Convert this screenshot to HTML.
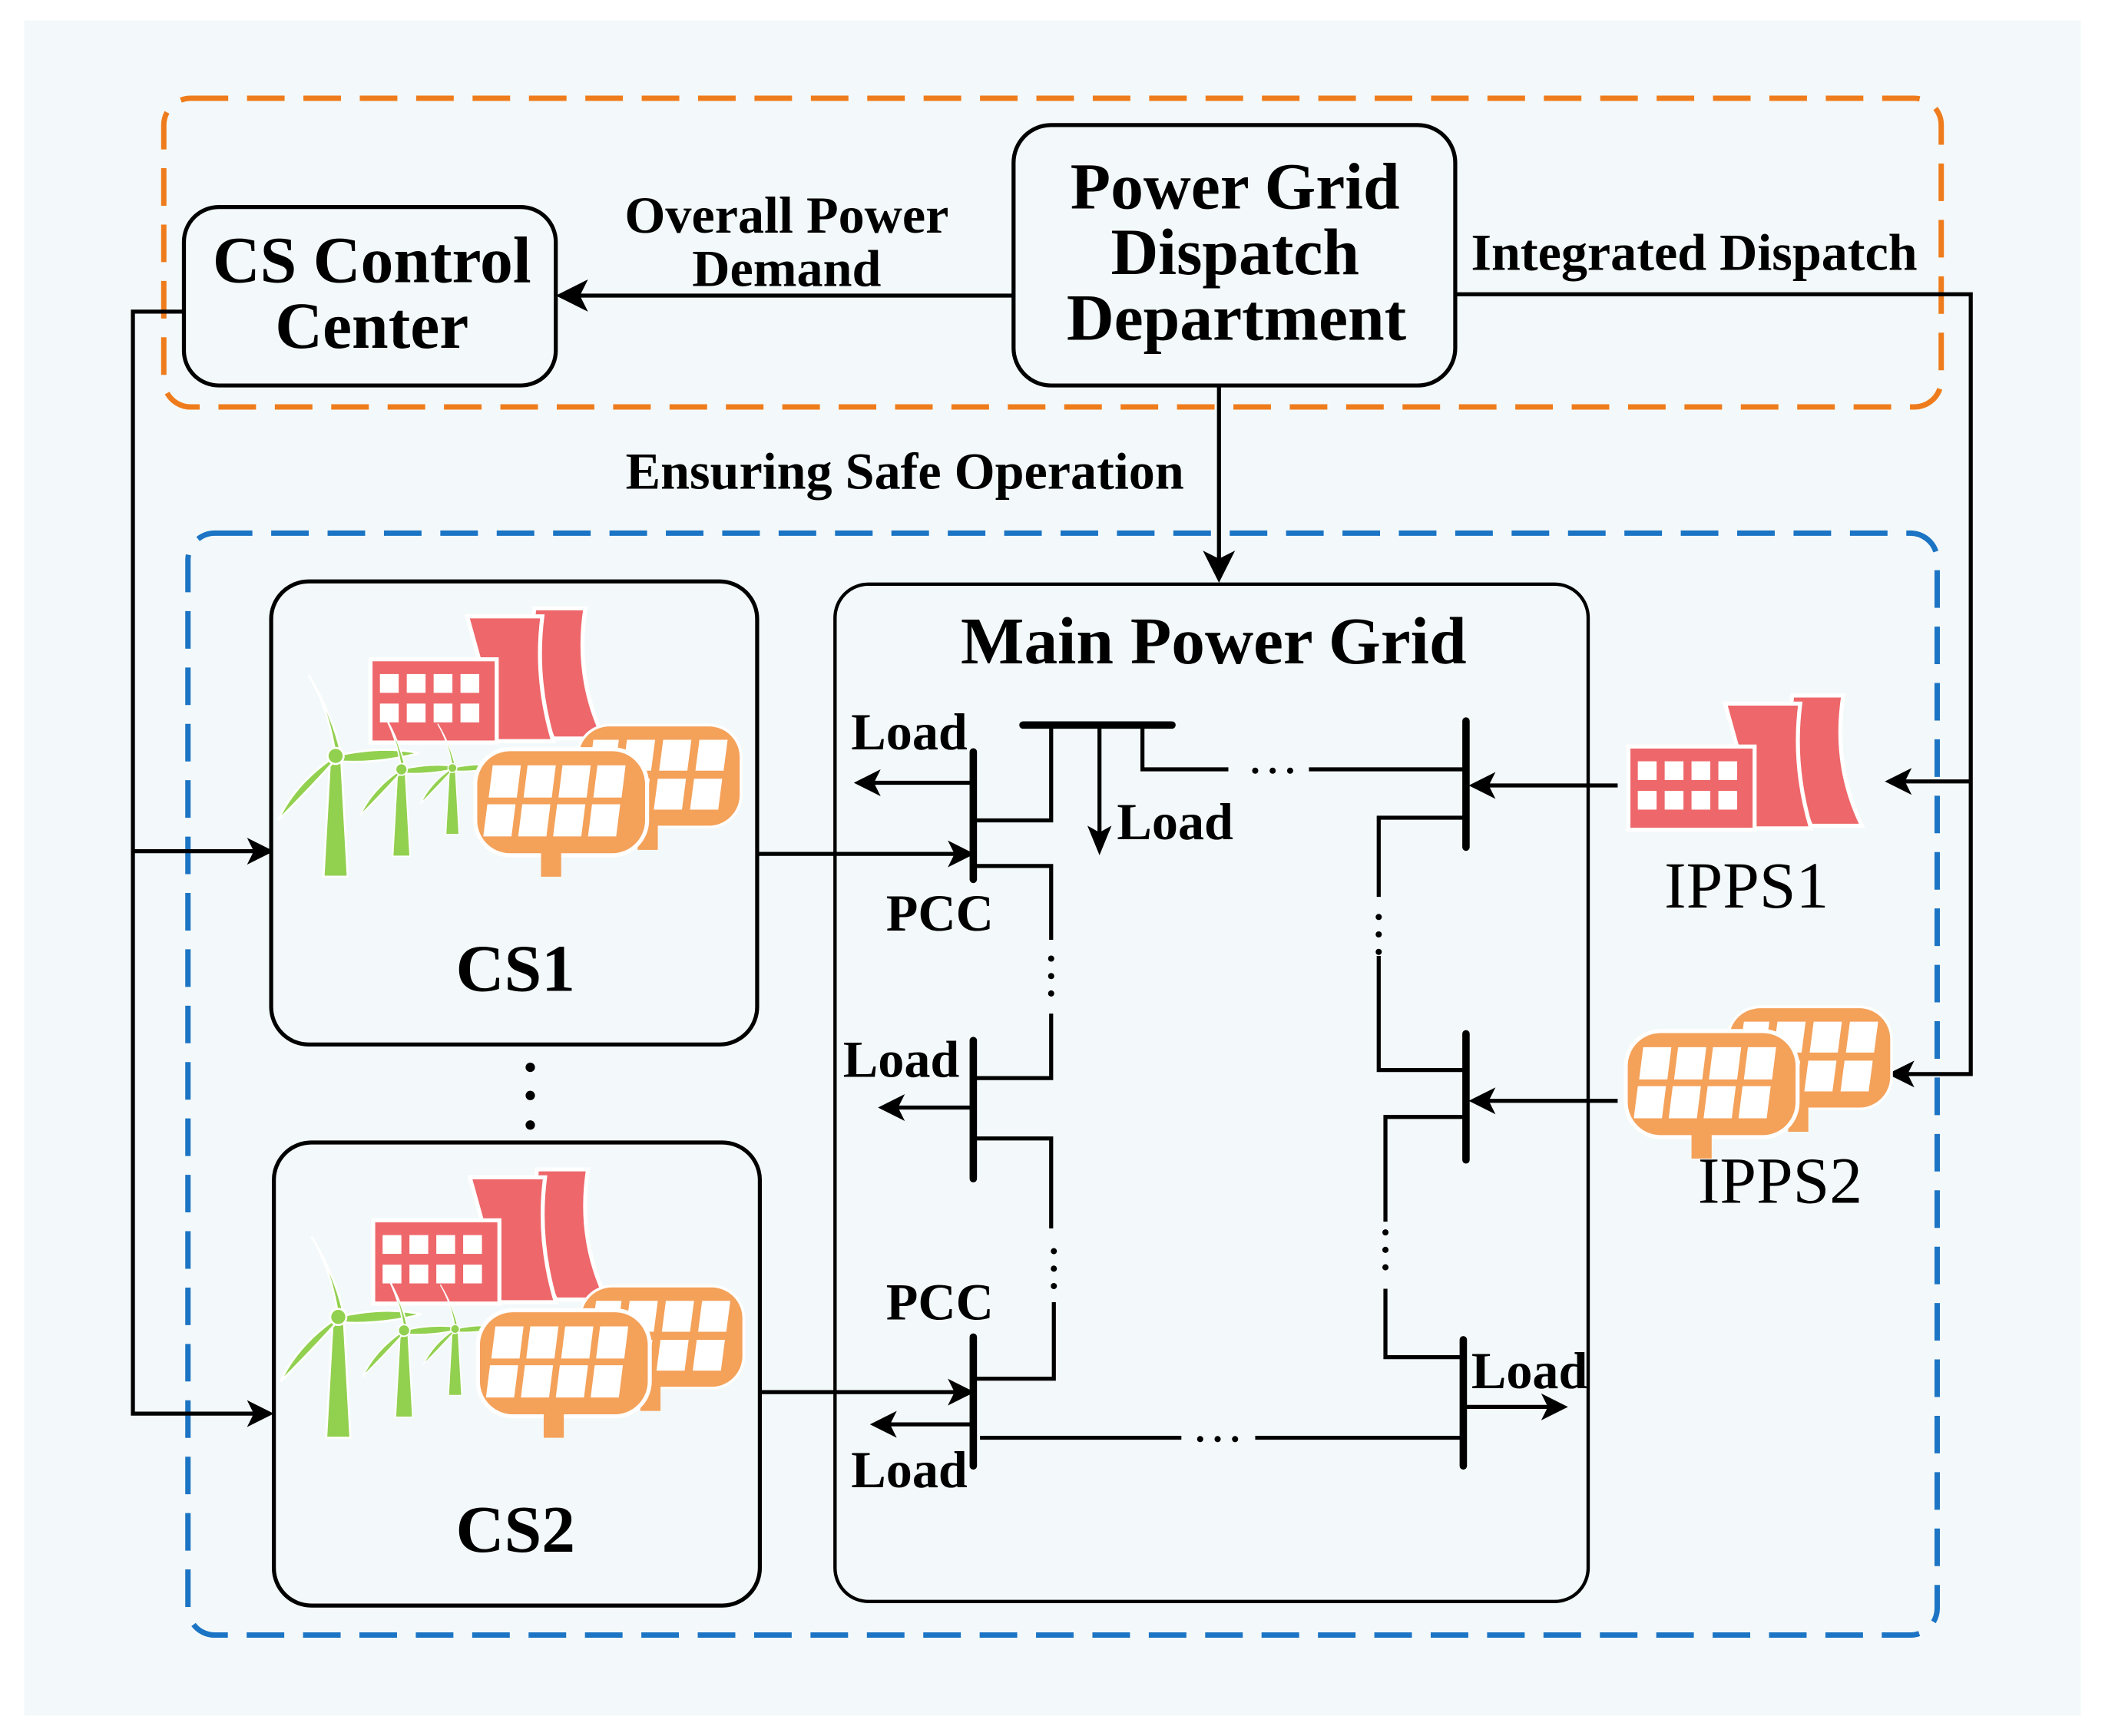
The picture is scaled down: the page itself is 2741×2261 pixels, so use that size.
<!DOCTYPE html>
<html><head><meta charset="utf-8"><style>
html,body{margin:0;padding:0;background:#fff;}
svg{display:block;}
text{font-family:"Liberation Serif",serif;fill:#000;}
</style></head><body>
<svg width="2741" height="2261" viewBox="0 0 1568 1293" xmlns="http://www.w3.org/2000/svg">
<defs>
<g id="plant">
 <path d="M398,453 L436,453 Q428,505 450,550 L412,550 Q392,505 398,453 Z" fill="#ee676a" stroke="#fff" stroke-width="3"/>
 <path d="M348,459 L404,459 Q398,505 412,552 L358,552 L358,495 Z" fill="#ee676a" stroke="#fff" stroke-width="3"/>
 <rect x="276" y="491" width="94" height="62" fill="#ee676a" stroke="#fff" stroke-width="3"/>
 <g fill="#fff">
  <rect x="283" y="502" width="14" height="14"/><rect x="303" y="502" width="14" height="14"/><rect x="323" y="502" width="14" height="14"/><rect x="343" y="502" width="14" height="14"/>
  <rect x="283" y="524" width="14" height="14"/><rect x="303" y="524" width="14" height="14"/><rect x="323" y="524" width="14" height="14"/><rect x="343" y="524" width="14" height="14"/>
 </g>
</g>
<g id="panels">
 <rect x="430" y="540" width="122" height="76" rx="24" fill="#f4a15a" stroke="#fff" stroke-width="2"/>
 <rect x="475" y="600" width="15" height="33" fill="#f4a15a"/>
 <g fill="#fff">
  <path d="M442,551 L461,551 L458,574 L439,574Z"/><path d="M467,551 L488,551 L485,574 L464,574Z"/><path d="M494,551 L515,551 L512,574 L491,574Z"/><path d="M521,551 L542,551 L539,574 L518,574Z"/>
  <path d="M438,580 L457,580 L454,603 L435,603Z"/><path d="M463,580 L484,580 L481,603 L460,603Z"/><path d="M490,580 L511,580 L508,603 L487,603Z"/><path d="M517,580 L538,580 L535,603 L514,603Z"/>
 </g>
 <rect x="354" y="558" width="128" height="79" rx="26" fill="#f4a15a" stroke="#fff" stroke-width="3"/>
 <rect x="403" y="620" width="15" height="33" fill="#f4a15a"/>
 <g fill="#fff">
  <path d="M367,570 L388,570 L385,594 L364,594Z"/><path d="M393,570 L414,570 L411,594 L390,594Z"/><path d="M419,570 L440,570 L437,594 L416,594Z"/><path d="M445,570 L466,570 L463,594 L442,594Z"/>
  <path d="M363,599 L384,599 L381,623 L360,623Z"/><path d="M389,599 L410,599 L407,623 L386,623Z"/><path d="M415,599 L436,599 L433,623 L412,623Z"/><path d="M441,599 L462,599 L459,623 L438,623Z"/>
 </g>
</g>
<g id="turb" fill="#92d050" stroke="#fff" stroke-width="1.5">
 <path d="M-4,0 L4,0 L9,90 L-9,90 Z"/>
 <path d="M0,0 Q-5,-35 -20,-60 Q-2,-30 4,-2 Z"/>
 <path d="M0,0 Q35,-8 62,-2 Q30,6 2,4 Z"/>
 <path d="M0,0 Q-30,20 -43,48 Q-20,25 -2,5 Z"/>
 <circle r="6" cx="0" cy="0"/>
</g>
<g id="cs">
 <use href="#plant"/>
 <use href="#turb" transform="translate(250,563)"/>
 <use href="#turb" transform="translate(299,573) scale(0.72)"/>
 <use href="#turb" transform="translate(337,572) scale(0.55)"/>
 <use href="#panels"/>
</g>
</defs>

<rect x="18" y="15" width="1532" height="1263" fill="#f3f9fa"/>

<rect x="122" y="73" width="1324" height="230" rx="20" fill="none" stroke="#ef7c1c" stroke-width="4" stroke-dasharray="28 14"/>
<rect x="140" y="397" width="1303" height="821" rx="20" fill="none" stroke="#1c74c4" stroke-width="4" stroke-dasharray="28 14"/>

<rect x="137" y="154" width="277" height="133" rx="26" fill="#f3f9fa" stroke="#000" stroke-width="3"/>
<text x="277" y="210" font-size="49" font-weight="bold" text-anchor="middle">CS Control</text>
<text x="277" y="259" font-size="49" font-weight="bold" text-anchor="middle">Center</text>
<rect x="755" y="93" width="329" height="194" rx="28" fill="#f3f9fa" stroke="#000" stroke-width="3"/>
<text x="920" y="155" font-size="49" font-weight="bold" text-anchor="middle">Power Grid</text>
<text x="920" y="204" font-size="49" font-weight="bold" text-anchor="middle">Dispatch</text>
<text x="921" y="253" font-size="49" font-weight="bold" text-anchor="middle">Department</text>

<text x="586" y="173" font-size="39" font-weight="bold" text-anchor="middle">Overall Power</text>
<text x="586" y="213" font-size="39" font-weight="bold" text-anchor="middle">Demand</text>
<text x="1262" y="201" font-size="39" font-weight="bold" text-anchor="middle">Integrated Dispatch</text>
<text x="674" y="364" font-size="39" font-weight="bold" text-anchor="middle">Ensuring Safe Operation</text>

<g stroke="#000" stroke-width="3" fill="none">
 <path d="M755,220 L430,220"/>
 <path d="M1084,219 L1468,219 L1468,800 L1420,800"/>
 <path d="M1468,582 L1418,582"/>
 <path d="M908,287 L908,418"/>
 <path d="M137,232 L99,232 L99,1053 L190,1053"/>
 <path d="M99,634 L190,634"/>
</g>
<g fill="#000">
 <path d="M414,220 L438,208 L432,220 L438,232Z"/>
 <path d="M1404,582 L1424,572 L1419,582 L1424,592Z"/>
 <path d="M1406,800 L1426,790 L1421,800 L1426,810Z"/>
 <path d="M908,434 L896,410 L908,416 L920,410Z"/>
 <path d="M204,634 L184,624 L189,634 L184,644Z"/>
 <path d="M204,1053 L184,1043 L189,1053 L184,1063Z"/>
</g>

<rect x="202" y="433" width="362" height="345" rx="28" fill="#f3f9fa" stroke="#000" stroke-width="3"/>
<use href="#cs"/>
<text x="384" y="738" font-size="50" font-weight="bold" text-anchor="middle">CS1</text>
<circle cx="395" cy="795" r="3.5"/><circle cx="395" cy="816" r="3.5"/><circle cx="395" cy="838" r="3.5"/>
<rect x="204" y="851" width="362" height="345" rx="28" fill="#f3f9fa" stroke="#000" stroke-width="3"/>
<use href="#cs" transform="translate(2,418)"/>
<text x="384" y="1156" font-size="50" font-weight="bold" text-anchor="middle">CS2</text>

<rect x="622" y="435" width="561" height="758" rx="25" fill="#f3f9fa" stroke="#000" stroke-width="2.5"/>
<text x="904" y="494" font-size="50" font-weight="bold" text-anchor="middle">Main Power Grid</text>

<g stroke="#000" stroke-width="3" fill="none">
 <path d="M564,636 L712,636"/>
 <path d="M566,1037 L712,1037"/>
 <path d="M725,611 L783,611 L783,540"/>
 <path d="M725,645 L783,645 L783,700"/>
 <path d="M783,755 L783,803 L725,803"/>
 <path d="M725,848 L783,848 L783,915"/>
 <path d="M785,970 L785,1027 L725,1027"/>
 <path d="M851,540 L851,573 L915,573"/>
 <path d="M975,573 L1092,573"/>
 <path d="M1092,609 L1027,609 L1027,668"/>
 <path d="M1027,712 L1027,797 L1092,797"/>
 <path d="M1092,832 L1032,832 L1032,910"/>
 <path d="M1032,960 L1032,1011 L1090,1011"/>
 <path d="M730,1071 L880,1071"/>
 <path d="M935,1071 L1090,1071"/>
 <path d="M725,583 L648,583"/>
 <path d="M725,825 L668,825"/>
 <path d="M725,1061 L662,1061"/>
 <path d="M1092,1048 L1156,1048"/>
 <path d="M819,540 L819,624"/>
 <path d="M1205,585 L1106,585"/>
 <path d="M1205,820 L1106,820"/>
</g>
<g stroke="#000" stroke-width="5.5" stroke-linecap="round">
 <path d="M725,560 L725,655"/>
 <path d="M725,775 L725,878"/>
 <path d="M725,996 L725,1092"/>
 <path d="M762,540 L873,540"/>
 <path d="M1092,537 L1092,631"/>
 <path d="M1092,770 L1092,864"/>
 <path d="M1090,998 L1090,1092"/>
</g>
<g fill="#000">
 <path d="M726,636 L706,626 L711,636 L706,646Z"/>
 <path d="M726,1037 L706,1027 L711,1037 L706,1047Z"/>
 <path d="M636,583 L656,573 L651,583 L656,593Z"/>
 <path d="M654,825 L674,815 L669,825 L674,835Z"/>
 <path d="M648,1061 L668,1051 L663,1061 L668,1071Z"/>
 <path d="M1168,1048 L1148,1038 L1153,1048 L1148,1058Z"/>
 <path d="M819,637 L810,615 L819,620 L828,615Z"/>
 <path d="M1094,585 L1114,575 L1109,585 L1114,595Z"/>
 <path d="M1094,820 L1114,810 L1109,820 L1114,830Z"/>
 <circle cx="935" cy="574" r="2.3"/><circle cx="948" cy="574" r="2.3"/><circle cx="961" cy="574" r="2.3"/>
 <circle cx="894" cy="1072" r="2.3"/><circle cx="907" cy="1072" r="2.3"/><circle cx="920" cy="1072" r="2.3"/>
 <circle cx="783" cy="714" r="2.3"/><circle cx="783" cy="727" r="2.3"/><circle cx="783" cy="740" r="2.3"/>
 <circle cx="785" cy="932" r="2.3"/><circle cx="785" cy="945" r="2.3"/><circle cx="785" cy="958" r="2.3"/>
 <circle cx="1027" cy="683" r="2.3"/><circle cx="1027" cy="696" r="2.3"/><circle cx="1027" cy="709" r="2.3"/>
 <circle cx="1032" cy="918" r="2.3"/><circle cx="1032" cy="931" r="2.3"/><circle cx="1032" cy="944" r="2.3"/>
</g>
<g font-size="39" font-weight="bold">
 <text x="634" y="558">Load</text>
 <text x="832" y="625">Load</text>
 <text x="660" y="693">PCC</text>
 <text x="628" y="802">Load</text>
 <text x="660" y="983">PCC</text>
 <text x="1096" y="1034">Load</text>
 <text x="634" y="1108">Load</text>
</g>

<use href="#plant" transform="translate(937,65)"/>
<text x="1301" y="676" font-size="49" text-anchor="middle">IPPS1</text>
<use href="#panels" transform="translate(857,210)"/>
<text x="1326" y="896" font-size="49" text-anchor="middle">IPPS2</text>
</svg>
</body></html>
